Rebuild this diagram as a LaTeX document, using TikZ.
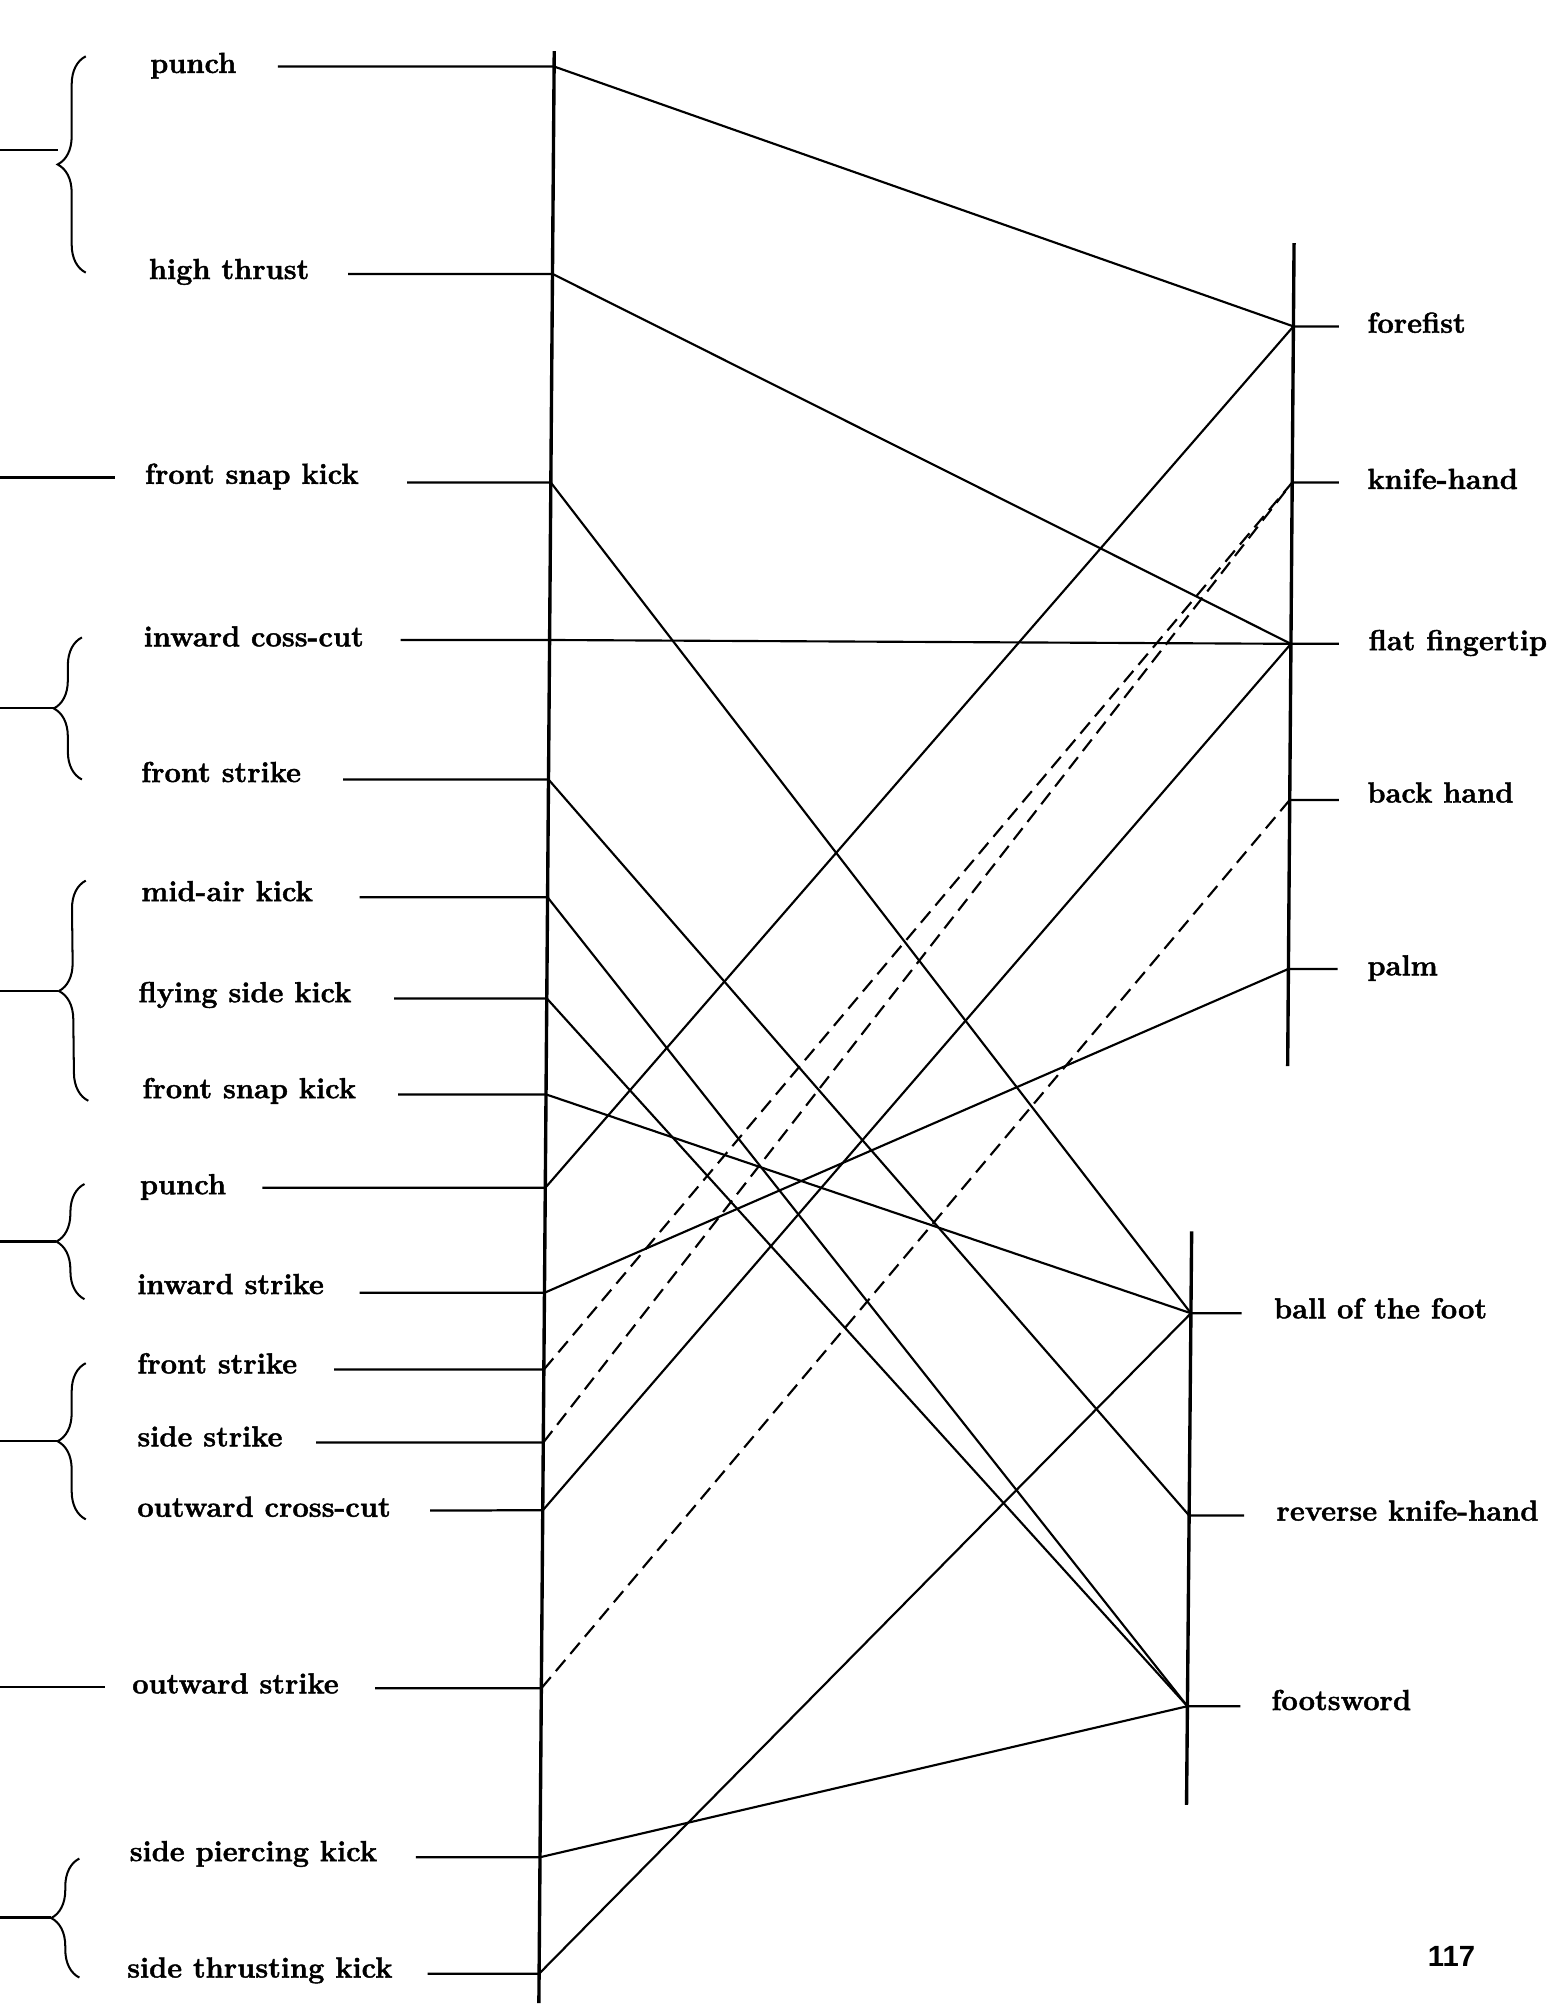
\documentclass[tikz,border=0pt]{standalone}
\usepackage{fontspec}
\newfontfamily\pnumfont{Liberation Sans}
\newfontfamily\lblfont{Latin Modern Roman}[BoldFeatures={FakeBold=1.5}]
\usetikzlibrary{calc,decorations.pathreplacing}
\begin{document}
\begin{tikzpicture}[x=0.02cm,y=-0.02cm,
  lbl/.style={anchor=base west,inner sep=0pt,font=\lblfont\fontsize{12.9}{15}\selectfont\bfseries},
  axis/.style={line width=1.5pt},
  stub/.style={line width=1pt},
  conn/.style={line width=0.95pt},
  dconn/.style={line width=0.95pt,dash pattern=on 6.5pt off 3.5pt},
  brc/.style={line width=0.9pt,decorate,decoration={brace,amplitude=0.44cm}},
  stem/.style={line width=1pt}]
\useasboundingbox (0,0) rectangle (1223,1568);
% axes
\coordinate (Mt) at (433,40);   \coordinate (Mb) at (421,1565);
\coordinate (Ut) at (1011,190); \coordinate (Ub) at (1006,833);
\coordinate (Dt) at (931,962);  \coordinate (Db) at (927,1410);
\draw[axis] (Mt) -- (Mb);
\draw[axis] (Ut) -- (Ub);
\draw[axis] (Dt) -- (Db);
% points on left axis
\coordinate (L1)  at ($(Mt)!{(52-40)/1525}!(Mb)$);
\coordinate (L2)  at ($(Mt)!{(214-40)/1525}!(Mb)$);
\coordinate (L3)  at ($(Mt)!{(377-40)/1525}!(Mb)$);
\coordinate (L4)  at ($(Mt)!{(500-40)/1525}!(Mb)$);
\coordinate (L5)  at ($(Mt)!{(609-40)/1525}!(Mb)$);
\coordinate (L6)  at ($(Mt)!{(701-40)/1525}!(Mb)$);
\coordinate (L7)  at ($(Mt)!{(780-40)/1525}!(Mb)$);
\coordinate (L8)  at ($(Mt)!{(855-40)/1525}!(Mb)$);
\coordinate (L9)  at ($(Mt)!{(928-40)/1525}!(Mb)$);
\coordinate (L10) at ($(Mt)!{(1010-40)/1525}!(Mb)$);
\coordinate (L11) at ($(Mt)!{(1070-40)/1525}!(Mb)$);
\coordinate (L12) at ($(Mt)!{(1127-40)/1525}!(Mb)$);
\coordinate (L13) at ($(Mt)!{(1180-40)/1525}!(Mb)$);
\coordinate (L14) at ($(Mt)!{(1319-40)/1525}!(Mb)$);
\coordinate (L15) at ($(Mt)!{(1451-40)/1525}!(Mb)$);
\coordinate (L16) at ($(Mt)!{(1542-40)/1525}!(Mb)$);
% points on right axes
\coordinate (R1) at ($(Ut)!{(255-190)/643}!(Ub)$);
\coordinate (R2) at ($(Ut)!{(377-190)/643}!(Ub)$);
\coordinate (R3) at ($(Ut)!{(503-190)/643}!(Ub)$);
\coordinate (R4) at ($(Ut)!{(625-190)/643}!(Ub)$);
\coordinate (R5) at ($(Ut)!{(757-190)/643}!(Ub)$);
\coordinate (D1) at ($(Dt)!{(1026-962)/448}!(Db)$);
\coordinate (D2) at ($(Dt)!{(1184-962)/448}!(Db)$);
\coordinate (D3) at ($(Dt)!{(1333-962)/448}!(Db)$);
% left labels
\node[lbl] (t1)  at (117,57)   {punch};
\node[lbl] (t2)  at (116,218)  {high thrust};
\node[lbl] (t3)  at (113,378)  {front snap kick};
\node[lbl] (t4)  at (112,505)  {inward coss-cut};
\node[lbl] (t5)  at (110,611)  {front strike};
\node[lbl] (t6)  at (110,704)  {mid-air kick};
\node[lbl] (t7)  at (108,783)  {flying side kick};
\node[lbl] (t8)  at (111,858)  {front snap kick};
\node[lbl] (t9)  at (109,933)  {punch};
\node[lbl] (t10) at (107,1011) {inward strike};
\node[lbl] (t11) at (107,1073) {front strike};
\node[lbl] (t12) at (107,1130) {side strike};
\node[lbl] (t13) at (107,1185) {outward cross-cut};
\node[lbl] (t14) at (103,1323) {outward strike};
\node[lbl] (t15) at (101,1454) {side piercing kick};
\node[lbl] (t16) at (99,1545)  {side thrusting kick};
% right labels
\node[lbl] (r1) at (1068,260) {forefist};
\node[lbl] (r2) at (1068,382) {knife-hand};
\node[lbl] (r3) at (1069,508) {flat fingertip};
\node[lbl] (r4) at (1068,627) {back hand};
\node[lbl] (r5) at (1068,762) {palm};
\node[lbl] (d1) at (995,1030) {ball of the foot};
\node[lbl] (d2) at (997,1188) {reverse knife-hand};
\node[lbl] (d3) at (993,1336) {footsword};
\node[anchor=base,inner sep=0pt,font=\pnumfont\fontsize{13}{15}\selectfont\bfseries] (pg) at (1134,1536) {117};
% left stubs
\coordinate (s1)  at (217,52);
\coordinate (s2)  at (272,214);
\coordinate (s3)  at (318,377);
\coordinate (s4)  at (313,500);
\coordinate (s5)  at (268,609);
\coordinate (s6)  at (281,701);
\coordinate (s7)  at (308,780);
\coordinate (s8)  at (311,855);
\coordinate (s9)  at (205,928);
\coordinate (s10) at (281,1010);
\coordinate (s11) at (261,1070);
\coordinate (s12) at (247,1127);
\coordinate (s13) at (336,1180);
\coordinate (s14) at (293,1319);
\coordinate (s15) at (325,1451);
\coordinate (s16) at (334,1542);
\foreach \i in {1,...,16} \draw[stub] (s\i) -- (L\i);
% right stubs
\coordinate (e1) at (1046,255);
\coordinate (e2) at (1046,377);
\coordinate (e3) at (1046,503);
\coordinate (e4) at (1046,625);
\coordinate (e5) at (1045,757);
\coordinate (f1) at (970,1026);
\coordinate (f2) at (972,1184);
\coordinate (f3) at (969,1333);
\foreach \i in {1,...,5} \draw[stub] (R\i) -- (e\i);
\foreach \i in {1,2,3} \draw[stub] (D\i) -- (f\i);
% connectors
\draw[conn] (L1) -- (R1);
\draw[conn] (L2) -- (R3);
\draw[conn] (L3) -- (D1);
\draw[conn] (L4) -- (R3);
\draw[conn] (L5) -- (D2);
\draw[conn] (L6) -- (D3);
\draw[conn] (L7) -- (D3);
\draw[conn] (L8) -- (D1);
\draw[conn] (L9) -- (R1);
\draw[conn] (L10) -- (R5);
\draw[dconn] (L11) -- (R2);
\draw[dconn] (L12) -- (R2);
\draw[conn] (L13) -- (R3);
\draw[dconn] (L14) -- (R4);
\draw[conn] (L15) -- (D3);
\draw[conn] (L16) -- (D1);
% far-left stems
\coordinate (x3a) at (0,373);  \coordinate (x3b) at (90,373);
\coordinate (x14a) at (0,1318); \coordinate (x14b) at (82,1318);
\draw[stem] (x3a) -- (x3b);
\draw[stem] (x14a) -- (x14b);
% braces
\coordinate (bA1) at (67,213);  \coordinate (bA2) at (67,44);
\coordinate (bB1) at (64,609);  \coordinate (bB2) at (64,498);
\coordinate (bC1) at (69,860);  \coordinate (bC2) at (67,688);
\coordinate (bD1) at (66,1015); \coordinate (bD2) at (66,925);
\coordinate (bE1) at (67,1187); \coordinate (bE2) at (67,1065);
\coordinate (bF1) at (62,1545); \coordinate (bF2) at (62,1452);
\draw[brc] (bA1) -- (bA2);
\draw[brc] (bB1) -- (bB2);
\draw[brc] (bC1) -- (bC2);
\draw[brc] (bD1) -- (bD2);
\draw[brc] (bE1) -- (bE2);
\draw[brc] (bF1) -- (bF2);
\coordinate (cA) at (45,117);  \coordinate (cA0) at (0,117);
\coordinate (cB) at (42,553);  \coordinate (cB0) at (0,553);
\coordinate (cC) at (45,774);  \coordinate (cC0) at (0,774);
\coordinate (cD) at (44,970);  \coordinate (cD0) at (0,970);
\coordinate (cE) at (45,1126); \coordinate (cE0) at (0,1126);
\coordinate (cF) at (40,1498); \coordinate (cF0) at (0,1498);
\foreach \k in {A,B,C,D,E,F} \draw[stem] (c\k0) -- (c\k);
\end{tikzpicture}
\end{document}
